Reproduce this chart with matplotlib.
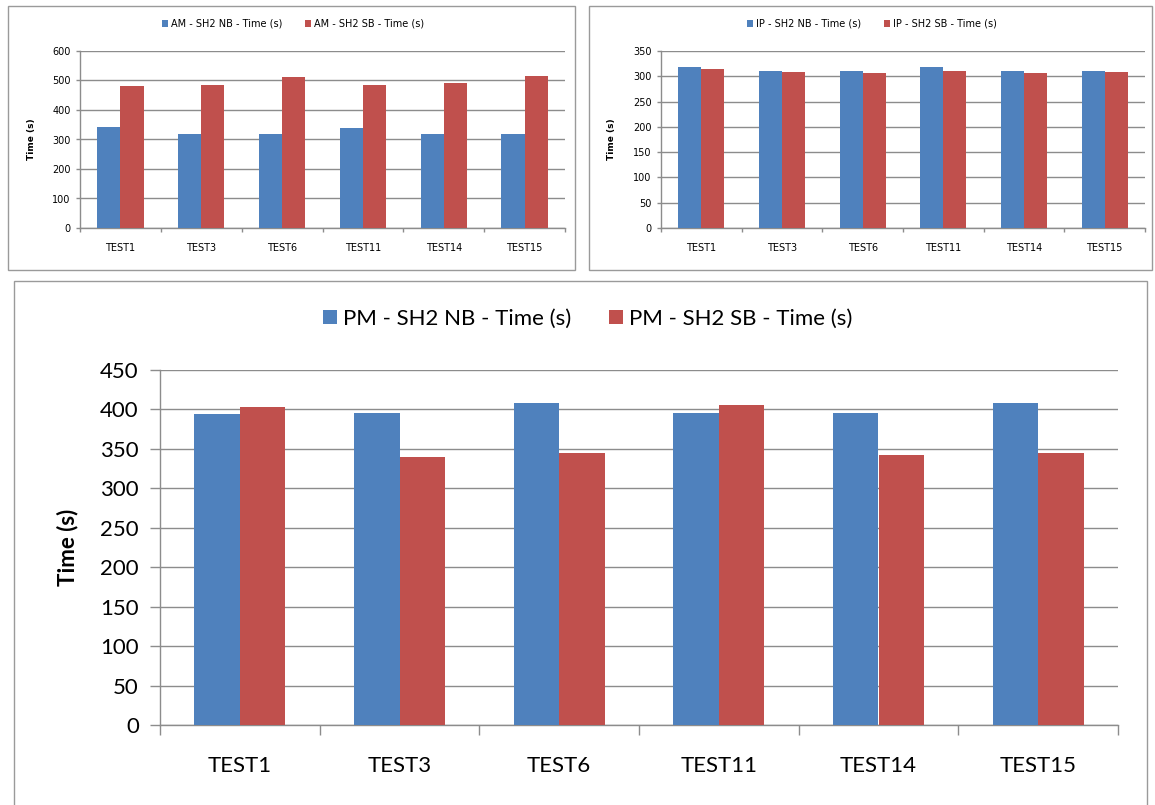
import matplotlib.pyplot as plt
import numpy as np
from matplotlib.patches import Rectangle

# test runs and measured times (seconds)
tests = ["TEST1", "TEST3", "TEST6", "TEST11", "TEST14", "TEST15"]

am_nb = [343, 318, 318, 340, 318, 318]
am_sb = [480, 486, 511, 486, 490, 515]

ip_nb = [319, 311, 311, 319, 311, 311]
ip_sb = [314, 308, 306, 311, 306, 308]

pm_nb = [394, 396, 408, 396, 396, 408]
pm_sb = [403, 340, 345, 405, 342, 345]

BLUE = "#4F81BD"
RED = "#C0504D"
GRID = "#8C8C8C"

W, H = 1155, 805
fig = plt.figure(figsize=(W / 100, H / 100), dpi=100)


def fx(px):
    return px / W


def fy(py):
    return 1 - py / H


def panel(x0, y0, x1, y1):
    # grey frame around each chart
    fig.patches.append(Rectangle((fx(x0), fy(y1)), fx(x1 - x0), (y1 - y0) / H,
                                 transform=fig.transFigure, fill=False,
                                 edgecolor="#9A9A9A", linewidth=1.0))


def bar_chart(rect, nb, sb, labels, ymax, ystep, fs, lfs, yl_fs, font,
              leg_center, leg_gap, xpad, ypad):
    ax = fig.add_axes(rect)
    x = np.arange(len(tests))
    w = 1 / 3.5
    ax.bar(x - w / 2, nb, w, color=BLUE, label=labels[0], zorder=3)
    ax.bar(x + w / 2, sb, w, color=RED, label=labels[1], zorder=3)
    ax.set_xlim(-0.5, len(tests) - 0.5)
    ax.set_ylim(0, ymax)
    ax.set_yticks(np.arange(0, ymax + 1, ystep))
    ax.yaxis.grid(True, color=GRID, linewidth=1.0, zorder=0)
    ax.set_xticks(x)
    ax.set_xticklabels(tests, fontsize=fs, family=font)
    ax.set_xticks(np.arange(-0.5, len(tests)), minor=True)
    ax.tick_params(axis="x", which="major", length=0, pad=xpad)
    ax.tick_params(axis="x", which="minor", length=fs * 0.45, color=GRID, width=1.0)
    ax.tick_params(axis="y", length=fs * 0.45, color=GRID, width=1.0,
                   labelsize=fs, pad=ypad)
    for t in ax.get_yticklabels():
        t.set_family(font)
    for s in ["top", "right"]:
        ax.spines[s].set_visible(False)
    for s in ["left", "bottom"]:
        ax.spines[s].set_color(GRID)
        ax.spines[s].set_linewidth(1.0)
    ax.set_ylabel("Time (s)", fontsize=yl_fs, fontweight="bold", family=font)
    fig.legend(*ax.get_legend_handles_labels(), loc="center",
               bbox_to_anchor=(fx(leg_center[0]), fy(leg_center[1])),
               bbox_transform=fig.transFigure, ncol=2, frameon=False,
               prop={"family": font, "size": lfs}, handlelength=0.6,
               handleheight=0.6, handletextpad=0.3, columnspacing=leg_gap)
    return ax


panel(8, 6, 575, 270)
panel(589, 6, 1152, 270)
panel(14, 281, 1147, 808)

ax1 = bar_chart([fx(80), fy(228), fx(565 - 80), (228 - 51) / H], am_nb, am_sb,
                ["AM - SH2 NB - Time (s)", "AM - SH2 SB - Time (s)"],
                600, 100, 7, 7, 6.5, "DejaVu Sans", (293, 24), 2.4, 11, 3.5)
ax1.yaxis.labelpad = 12

ax2 = bar_chart([fx(661), fy(228), fx(1145 - 661), (228 - 51) / H], ip_nb, ip_sb,
                ["IP - SH2 NB - Time (s)", "IP - SH2 SB - Time (s)"],
                350, 50, 7, 7, 6.5, "DejaVu Sans", (872, 24), 2.4, 11, 3.5)
ax2.yaxis.labelpad = 12

ax3 = bar_chart([fx(160), fy(725), fx(1118 - 160), (725 - 370) / H], pm_nb, pm_sb,
                ["PM - SH2 NB - Time (s)", "PM - SH2 SB - Time (s)"],
                450, 50, 16, 16, 16, "Lato", (588, 319), 1.7, 22, 8)
ax3.yaxis.labelpad = 16

fig.savefig("out.png", dpi=100, facecolor="white")
